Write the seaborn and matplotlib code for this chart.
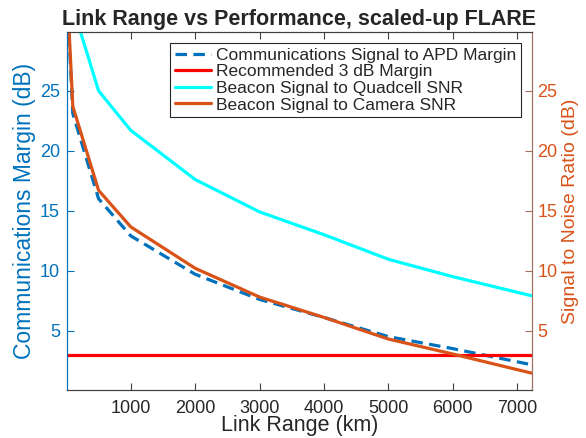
import matplotlib
matplotlib.use("Agg")
import matplotlib.pyplot as plt
import seaborn as sns

# ---- data ----
link_range_km = [10, 100, 500, 1000, 2000, 3000, 4000, 5000, 6000, 7230]
comms_margin = [33.1, 23.1, 16.0, 12.9, 9.7, 7.6, 6.1, 4.5, 3.5, 2.15]
recommended_margin = [3, 3, 3, 3, 3, 3, 3, 3, 3, 3]
quadcell_snr = [42.0, 32.0, 25.0, 21.7, 17.6, 14.9, 13.0, 10.95, 9.5, 7.9]
camera_snr = [33.7, 23.7, 16.7, 13.65, 10.2, 7.8, 6.1, 4.3, 3.05, 1.45]
y_ticks = [5, 10, 15, 20, 25]
x_ticks = [1000, 2000, 3000, 4000, 5000, 6000, 7000]

labels = ["Communications Signal to APD Margin", "Recommended 3 dB Margin",
          "Beacon Signal to Quadcell SNR", "Beacon Signal to Camera SNR"]

sns.set_style("white")
plt.rcParams["font.family"] = ["Liberation Sans", "DejaVu Sans"]

BLUE = "#0072BD"
ORANGE = "#D95319"
RED = "#FF0000"
CYAN = "#00FFFF"
AXC = "#404040"

fig = plt.figure(figsize=(5.86, 4.38), dpi=100)
ax = fig.add_axes([67 / 586, 1 - 390 / 438, 465 / 586, 358 / 438])
ax2 = ax.twinx()

lw = 2.3
sns.lineplot(x=link_range_km, y=comms_margin, ax=ax, color=BLUE, linewidth=lw,
             linestyle=(0, (3.6, 2.0)), label=labels[0], legend=False)
sns.lineplot(x=link_range_km, y=recommended_margin, ax=ax, color=RED, linewidth=lw,
             label=labels[1], legend=False)
sns.lineplot(x=link_range_km, y=quadcell_snr, ax=ax2, color=CYAN, linewidth=lw,
             label=labels[2], legend=False)
sns.lineplot(x=link_range_km, y=camera_snr, ax=ax2, color=ORANGE, linewidth=lw,
             label=labels[3], legend=False)

xlim = (link_range_km[0], link_range_km[-1])
ylim = (0.05, 29.9)
ax.set_xlim(*xlim)
ax.set_ylim(*ylim)
ax2.set_ylim(*ylim)
ax.set_xticks(x_ticks)
ax.set_xticklabels([str(t) for t in x_ticks])
ax.set_yticks(y_ticks)
ax2.set_yticks(y_ticks)

ax.tick_params(axis="x", direction="in", top=True, bottom=True, length=5,
               width=0.8, color=AXC, labelsize=13, labelcolor="#262626", pad=7)
ax.tick_params(axis="y", direction="in", left=True, right=False, length=5,
               width=0.8, color=BLUE, labelsize=13, labelcolor=BLUE, pad=5)
ax2.tick_params(axis="y", direction="in", right=True, left=False, length=5,
                width=0.8, color="#A0705F", labelsize=13, labelcolor=ORANGE, pad=4)

for a in (ax, ax2):
    a.spines["top"].set_color(AXC)
    a.spines["bottom"].set_color(AXC)
    a.spines["top"].set_linewidth(0.8)
    a.spines["bottom"].set_linewidth(0.8)
ax.spines["left"].set_color(BLUE)
ax2.spines["left"].set_color(BLUE)
ax.spines["right"].set_color("#A0705F")
ax2.spines["right"].set_color("#A0705F")
for a in (ax, ax2):
    a.spines["left"].set_linewidth(0.8)
    a.spines["right"].set_linewidth(0.8)

ax.set_xlabel("Link Range (km)", fontsize=15.5, color="#262626", labelpad=-1)
ax.set_ylabel("Communications Margin (dB)", fontsize=16.5, color=BLUE, labelpad=3)
ax2.set_ylabel("Signal to Noise Ratio (dB)", fontsize=14, color=ORANGE, labelpad=3)
ax.set_title("Link Range vs Performance, scaled-up FLARE", fontsize=15.5,
             fontweight="bold", pad=5)

h1, l1 = ax.get_legend_handles_labels()
h2, l2 = ax2.get_legend_handles_labels()
leg = ax2.legend(h1 + h2, l1 + l2, loc="upper right", bbox_to_anchor=(0.976, 0.968),
                 borderaxespad=0, fontsize=12.5, frameon=True, fancybox=False,
                 framealpha=1, edgecolor="#262626", labelspacing=0.08,
                 handlelength=2.1, handletextpad=0.3, borderpad=0.25)
leg.get_frame().set_linewidth(0.8)

fig.savefig("out.png", dpi=100)
